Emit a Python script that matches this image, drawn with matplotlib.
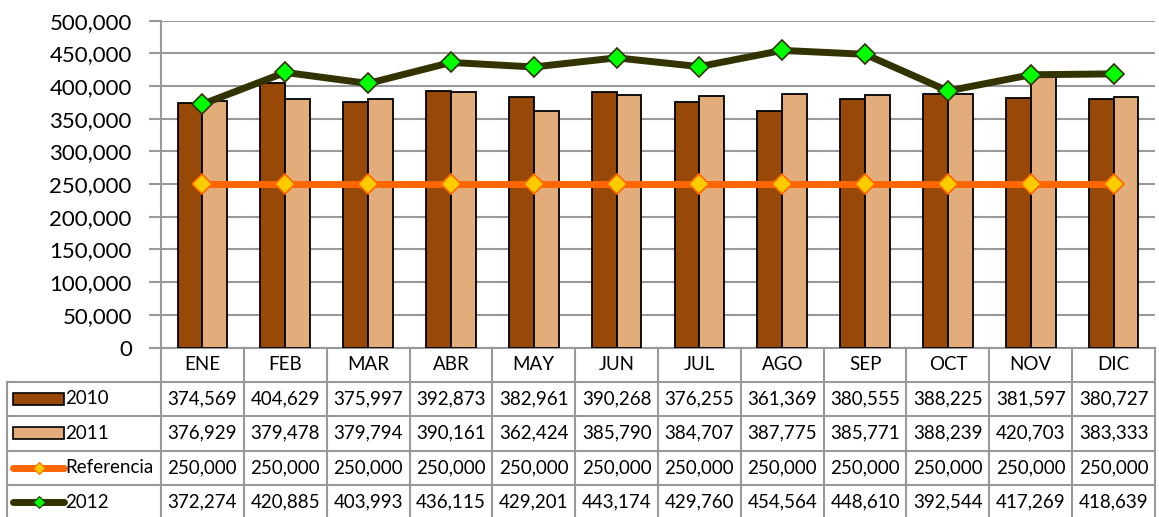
import numpy as np
import matplotlib
matplotlib.use("Agg")
import matplotlib.pyplot as plt
from matplotlib.transforms import blended_transform_factory
from matplotlib.patches import Rectangle
from matplotlib.lines import Line2D

plt.rcParams['font.family'] = ['Lato', 'DejaVu Sans']

months = ["ENE", "FEB", "MAR", "ABR", "MAY", "JUN", "JUL", "AGO", "SEP", "OCT", "NOV", "DIC"]
v2010 = [374569, 404629, 375997, 392873, 382961, 390268, 376255, 361369, 380555, 388225, 381597, 380727]
v2011 = [376929, 379478, 379794, 390161, 362424, 385790, 384707, 387775, 385771, 388239, 420703, 383333]
referencia = [250000] * 12
v2012 = [372274, 420885, 403993, 436115, 429201, 443174, 429760, 454564, 448610, 392544, 417269, 418639]

C2010 = "#984807"
C2011 = "#E3AD7B"
CREF = "#FF6600"
C2012 = "#333300"
GRID = "#999999"

W, H = 1159, 517
fig = plt.figure(figsize=(W / 100, H / 100), dpi=100)

# plot area in pixels
left, right, top, bottom = 161, 1155, 20.7, 347.5
ax = fig.add_axes([left / W, 1 - bottom / H, (right - left) / W, (bottom - top) / H])

x = np.arange(len(months))
bw = 0.3
ax.bar(x - bw / 2, v2010, bw, color=C2010, edgecolor="black", linewidth=1.3, zorder=2)
ax.bar(x + bw / 2, v2011, bw, color=C2011, edgecolor="black", linewidth=1.3, zorder=2)
ax.plot(x, referencia, color=CREF, lw=5, marker="D", ms=10, mfc="#FFCC00", mec=CREF, mew=1.2,
        zorder=3, solid_capstyle="butt")
ax.plot(x, v2012, color=C2012, lw=5, marker="D", ms=10, mfc="#00FF00", mec=C2012, mew=1.2,
        zorder=4, solid_capstyle="butt")

ax.set_xlim(-0.5, len(months) - 0.5)
ax.set_ylim(0, 500000)
ax.set_yticks(np.arange(0, 500001, 50000))
ax.yaxis.set_major_formatter(matplotlib.ticker.FuncFormatter(lambda v, p: f"{int(v):,}"))
ax.tick_params(axis="y", length=9, width=1.5, color=GRID, labelsize=16, pad=12)
ax.set_xticks([])
ax.grid(axis="y", color=GRID, lw=1.5, zorder=0)
ax.set_axisbelow(True)
for s in ["top", "right", "bottom"]:
    ax.spines[s].set_visible(False)
ax.spines["left"].set_color(GRID)
ax.spines["left"].set_linewidth(1.5)

# data table under the chart
ph = bottom - top
def fy(px):
    # pixels below the axis bottom -> axes fraction
    return -px / ph

tr = blended_transform_factory(ax.transData, ax.transAxes)
row_edges = [0, 34, 68.5, 103, 137.5, 172]
lab_left = (7 - left) / (right - left)
lw_t = 1.5
kw = dict(color=GRID, lw=lw_t, clip_on=False, zorder=1)

# horizontal lines
ax.add_line(Line2D([-0.5, 11.5], [fy(0), fy(0)], transform=tr, **kw))
for r in row_edges[1:]:
    ax.add_line(Line2D([lab_left, 1], [fy(r), fy(r)], transform=ax.transAxes, **kw))
# vertical lines
for i in range(len(months) + 1):
    ax.add_line(Line2D([i - 0.5, i - 0.5], [fy(0), fy(row_edges[-1])], transform=tr, **kw))
ax.add_line(Line2D([lab_left, lab_left], [fy(row_edges[1]), fy(row_edges[-1])],
                   transform=ax.transAxes, **kw))
# tick stub left of the axis bottom
ax.add_line(Line2D([-9 / (right - left), 0], [0, 0], transform=ax.transAxes, **kw))

def mid(r):
    return fy((row_edges[r] + row_edges[r + 1]) / 2)

for i, m in enumerate(months):
    ax.text(i, mid(0), m, transform=tr, ha="center", va="center", fontsize=13.5)

rows = [("2010", v2010), ("2011", v2011), ("Referencia", referencia), ("2012", v2012)]
for r, (name, vals) in enumerate(rows, start=1):
    for i, v in enumerate(vals):
        ax.text(i, mid(r), f"{v:,}", transform=tr, ha="center", va="center", fontsize=13.5)
    ax.text((65 - left) / (right - left), mid(r), name, transform=ax.transAxes,
            ha="left", va="center", fontsize=13.5)

# legend keys
kx0 = (13 - left) / (right - left)
kx1 = (64 - left) / (right - left)
kh = 12 / ph
for r, col in [(1, C2010), (2, C2011)]:
    ax.add_patch(Rectangle((kx0, mid(r) - kh / 2), kx1 - kx0, kh, transform=ax.transAxes,
                           facecolor=col, edgecolor="black", lw=1.2, clip_on=False))
for r, col, mfc in [(3, CREF, "#FFCC00"), (4, C2012, "#00FF00")]:
    ax.add_line(Line2D([kx0, kx1], [mid(r), mid(r)], transform=ax.transAxes, color=col, lw=5,
                       solid_capstyle="round", clip_on=False))
    ax.add_line(Line2D([(kx0 + kx1) / 2], [mid(r)], transform=ax.transAxes, marker="D", ms=6,
                       mfc=mfc, mec=col, mew=0.8, clip_on=False))

fig.savefig("out.png", dpi=100)
